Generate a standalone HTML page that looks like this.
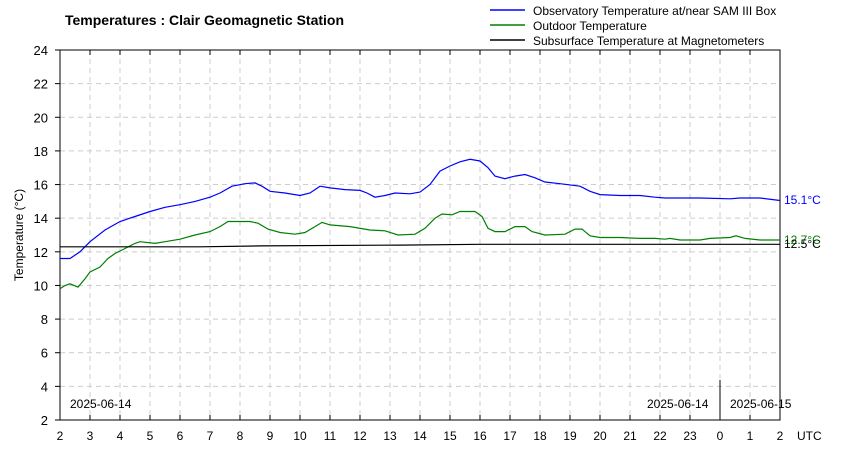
<!DOCTYPE html>
<html><head><meta charset="utf-8"><style>
body{margin:0;background:#fff;}
svg{display:block;font-family:"Liberation Sans",Arial,sans-serif;}
</style></head><body>
<svg id="s" width="865" height="450" xmlns="http://www.w3.org/2000/svg">
<text x="65" y="25" font-size="14" font-weight="bold">Temperatures : Clair Geomagnetic Station</text>
<line x1="490" y1="10" x2="525" y2="10" stroke="#0000ff" stroke-width="1.5"/>
<text x="533" y="15" font-size="12">Observatory Temperature at/near SAM III Box</text>
<line x1="490" y1="25" x2="525" y2="25" stroke="#008000" stroke-width="1.5"/>
<text x="533" y="30" font-size="12">Outdoor Temperature</text>
<line x1="490" y1="40" x2="525" y2="40" stroke="#000" stroke-width="1.5"/>
<text x="533" y="45" font-size="12">Subsurface Temperature at Magnetometers</text>
<g id="grid"></g>
<rect x="60" y="50" width="720" height="370" fill="none" stroke="#000" stroke-width="1"/>
<line x1="720" y1="380" x2="720" y2="420" stroke="#000"/>
<text x="70" y="408" font-size="12">2025-06-14</text>
<text x="647" y="408" font-size="12">2025-06-14</text>
<text x="730" y="408" font-size="12">2025-06-15</text>
<text x="797" y="440" font-size="12">UTC</text>
<text transform="translate(23,235) rotate(-90)" font-size="12" text-anchor="middle">Temperature (°C)</text>
<g id="d"></g>
<text x="784" y="204" font-size="12" fill="#0000ff">15.1°C</text>
<text x="784" y="244" font-size="12" fill="#008000">12.7°C</text>
<text x="784" y="248" font-size="12" fill="#000">12.5°C</text>
</svg>
<script>
var NS="http://www.w3.org/2000/svg",g=document.getElementById('grid'),d=document.getElementById('d');
function Y(v){return 420-(v-2)*370/22;}
function el(p,t,a){var e=document.createElementNS(NS,t);for(var k in a)e.setAttribute(k,a[k]);p.appendChild(e);return e;}
for(var v=2;v<=24;v+=2){var y=Y(v);
 if(v>2&&v<24)el(g,'line',{x1:60,y1:y,x2:780,y2:y,stroke:'#ccc','stroke-dasharray':'5,4'});
 el(g,'line',{x1:55,y1:y,x2:60,y2:y,stroke:'#000'});
 var t=el(g,'text',{x:48,y:y+5,'font-size':13,'text-anchor':'end'});t.textContent=v;}
for(var i=0;i<=24;i++){var x=60+30*i;
 if(i>0&&i<24)el(g,'line',{x1:x,y1:50,x2:x,y2:420,stroke:'#ccc','stroke-dasharray':'5,4'});
 el(g,'line',{x1:x,y1:50,x2:x,y2:55,stroke:'#000'});
 el(g,'line',{x1:x,y1:415,x2:x,y2:420,stroke:'#000'});
 var t=el(g,'text',{x:x,y:440,'font-size':12,'text-anchor':'middle'});t.textContent=(i+2)%24;}
function path(pts,c){var s='';for(var i=0;i<pts.length;i+=2)s+=(i?'L':'M')+pts[i]+','+Y(pts[i+1]).toFixed(1);el(d,'path',{d:s,fill:'none',stroke:c,'stroke-width':1.2});}
path([60,11.6,70,11.6,80,12,90,12.6,105,13.3,120,13.8,135,14.1,150,14.4,165,14.65,180,14.8,195,15,210,15.25,220,15.5,232,15.9,245,16.05,255,16.1,262,15.9,270,15.6,285,15.5,300,15.35,310,15.5,320,15.9,330,15.8,345,15.7,360,15.65,367,15.5,375,15.25,385,15.35,395,15.5,410,15.45,420,15.55,430,16,440,16.8,450,17.1,460,17.35,470,17.5,480,17.4,488,17,495,16.5,505,16.35,515,16.5,525,16.6,535,16.4,545,16.15,560,16.05,580,15.9,590,15.6,600,15.4,620,15.35,640,15.35,655,15.25,665,15.2,700,15.2,730,15.15,740,15.2,760,15.2,780,15.05],'#0000ff');
path([60,9.8,65,10,70,10.1,78,9.9,85,10.4,90,10.8,100,11.1,108,11.6,115,11.9,125,12.2,135,12.5,140,12.6,155,12.5,165,12.6,180,12.75,195,13,210,13.2,220,13.5,228,13.8,250,13.8,258,13.7,268,13.35,280,13.15,295,13.05,305,13.15,315,13.5,322,13.75,330,13.6,350,13.5,370,13.3,385,13.25,398,13.0,415,13.05,425,13.4,435,14,442,14.25,452,14.2,460,14.4,475,14.4,482,14.1,488,13.4,495,13.2,505,13.2,515,13.5,525,13.5,532,13.2,545,13,565,13.05,575,13.35,582,13.35,590,12.95,600,12.85,620,12.85,640,12.8,655,12.8,665,12.75,670,12.8,680,12.7,700,12.7,710,12.8,730,12.85,736,12.95,745,12.8,760,12.7,780,12.7],'#008000');
path([60,12.3,200,12.3,260,12.35,400,12.4,480,12.45,520,12.45,780,12.45],'#000');
</script>
</body></html>
